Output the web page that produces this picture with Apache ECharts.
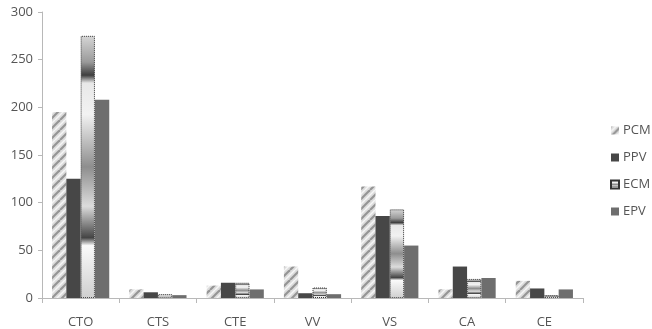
<!DOCTYPE html>
<html><head><meta charset="utf-8">
<script src="https://cdn.jsdelivr.net/npm/echarts@6/dist/echarts.min.js"></script>
<style>html,body{margin:0;padding:0;background:#fff}#c{width:652px;height:329px}</style>
</head><body><div id="c"></div>
<script>
const categories = ['CTO','CTS','CTE','VV','VS','CA','CE'];
const seriesNames = ['PCM','PPV','ECM','EPV'];
const pcm = [195, 9, 13, 33, 117, 9, 18];
const ppv = [125, 6, 16, 5, 86, 33, 10];
const ecm = [275, 4, 16, 11, 93, 20, 3];
const epv = [208, 3, 9, 4, 55, 21, 9];
const yTicks = [0, 50, 100, 150, 200, 250, 300];

function stripePattern() {
  const c = document.createElement('canvas');
  c.width = 10; c.height = 10;
  const g = c.getContext('2d');
  g.fillStyle = '#dcdcdc'; g.fillRect(0,0,10,10);
  g.strokeStyle = '#959595'; g.lineWidth = 2.2;
  for (let k=-10;k<=20;k+=10){ g.beginPath(); g.moveTo(k,10); g.lineTo(k+10,0); g.stroke(); }
  g.strokeStyle = '#f6f6f6'; g.lineWidth = 1.5;
  for (let k=-5;k<=25;k+=10){ g.beginPath(); g.moveTo(k,10); g.lineTo(k+10,0); g.stroke(); }
  return c;
}
const pcmColor = {image: stripePattern(), repeat: 'repeat'};
const ecmColor = {type:'linear', x:0, y:0, x2:0, y2:1, colorStops:[
  {offset:0, color:'#d6d6d6'}, {offset:0.1, color:'#9a9a9a'}, {offset:0.15, color:'#3e3e3e'},
  {offset:0.18, color:'#e8e8e8'}, {offset:0.3, color:'#f2f2f2'}, {offset:0.5, color:'#8e8e8e'},
  {offset:0.65, color:'#dcdcdc'}, {offset:0.77, color:'#444'}, {offset:0.8, color:'#fafafa'},
  {offset:1, color:'#cfcfcf'}]};

const chart = echarts.init(document.getElementById('c'), null, {renderer:'canvas'});
const font = 'Open Sans, Liberation Sans, sans-serif';
chart.setOption({
  animation: false,
  grid: {left: 42, right: 69, top: 12, bottom: 31, containLabel: false},
  legend: {
    orient: 'vertical', left: 605, top: 119, itemGap: 14, itemWidth: 8, itemHeight: 8,
    icon: 'rect', textStyle: {color: '#555', fontSize: 13, fontFamily: font, padding:[0,0,0,-1]},
    data: seriesNames
  },
  xAxis: {
    type: 'category', data: categories,
    axisLine: {lineStyle: {color: '#b8b8b8'}},
    axisTick: {show: true, length: 5, lineStyle: {color: '#b8b8b8'}},
    axisLabel: {color: '#555', fontSize: 13, fontFamily: font, margin: 18}
  },
  yAxis: {
    type: 'value', min: yTicks[0], max: yTicks[yTicks.length-1], interval: 50,
    axisLine: {show: true, lineStyle: {color: '#b8b8b8'}},
    axisTick: {show: true, length: 4, lineStyle: {color: '#b8b8b8'}},
    splitLine: {show: false},
    axisLabel: {color: '#555', fontSize: 13, fontFamily: font, margin: 9}
  },
  series: [
    {name: 'PCM', type: 'bar', data: pcm, barGap: '0%', barCategoryGap: '26%',
     itemStyle: {color: pcmColor}},
    {name: 'PPV', type: 'bar', data: ppv, itemStyle: {color: '#474747'}},
    {name: 'ECM', type: 'bar', data: ecm,
     itemStyle: {color: ecmColor, borderColor: '#333', borderWidth: 1, borderType: 'dotted'}},
    {name: 'EPV', type: 'bar', data: epv, itemStyle: {color: '#6e6e6e'}}
  ]
});
</script></body></html>
